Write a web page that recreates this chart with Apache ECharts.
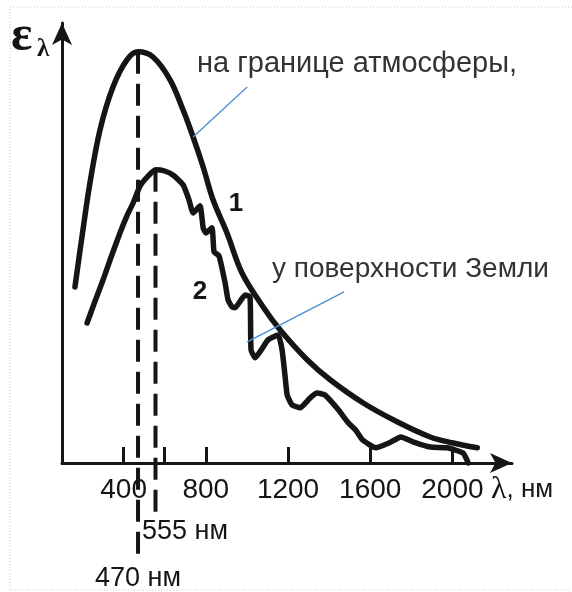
<!DOCTYPE html>
<html>
<head>
<meta charset="utf-8">
<script src="https://cdn.jsdelivr.net/npm/echarts@6/dist/echarts.min.js"></script>
<style>
  html, body { margin: 0; padding: 0; background: #fff; }
  #chart { width: 572px; height: 592px; }
</style>
</head>
<body>
<div id="chart"></div>
<script>
// curve 1 - at the top of the atmosphere (wavelength, nm / spectral density, arb. units)
const lambda1 = [163, 202, 236, 285, 348, 416, 470, 543, 626, 689, 738, 787, 835, 903, 976, 1079, 1161, 1293, 1405, 1566, 1731, 1892, 2004, 2121]
const eps1 = [44, 58.3, 70, 83.3, 94, 100.8, 102.8, 101.5, 95.8, 88.3, 81.5, 74, 65.8, 57.5, 47.5, 39, 33.3, 25.8, 20.8, 15, 10.3, 6.5, 5, 3.8]

// curve 2 - at the Earth's surface (absorption bands)
const lambda2 = [222, 261, 300, 339, 382, 416, 446, 480, 520, 555, 600, 645, 690, 718, 738, 772, 787, 801, 830, 840, 864, 894, 908, 928, 942, 991, 1015, 1020, 1040, 1103, 1152, 1171, 1186, 1196, 1220, 1259, 1308, 1342, 1380, 1445, 1494, 1528, 1562, 1627, 1691, 1750, 1808, 1892, 1975, 2052, 2077]
const eps2 = [35, 40.5, 45.8, 51.5, 57.5, 61.8, 65, 69.3, 71.8, 73.3, 73, 71.8, 69.5, 65.8, 62.5, 64.3, 58.8, 57.5, 58.8, 52.8, 51.8, 45, 40.8, 39, 38.8, 42, 41.5, 28.3, 26.3, 30.8, 32, 28.3, 21.5, 17, 14.5, 13.8, 16.3, 17.5, 17, 13.3, 10, 8.3, 5.8, 3.8, 5, 6.5, 5.3, 4, 3.8, 2.5, 0]

// peak wavelengths and how far their dashed guides run below the axis
const peakLambda = [470, 555]
const peakEps = [102.8, 73.3]
const guideEnd = [-24, -12.5]

// axis ticks
const tickValues = [400, 600, 800, 1200, 1600, 2000]
const labelValues = [400, 800, 1200, 1600, 2000]

// leader lines of the annotations (data coords)
const leaderTop = [[738, 81.5], [1001, 94]]
const leaderBottom = [[1001, 30.3], [1473, 42.8]]

const chart = echarts.init(document.getElementById('chart'))

const zip = (xs, ys) => xs.map((x, i) => [x, ys[i]])
const ink = '#151515'
const sans = '"Liberation Sans", Arial, sans-serif'
const serif = '"Liberation Serif", "DejaVu Serif", serif'

const curveStyle = { color: ink, width: 5.5, cap: 'round', join: 'round' }

const guides = peakLambda.map((l, i) => ({
  type: 'line',
  data: [[l, peakEps[i]], [l, guideEnd[i]]],
  symbol: 'none',
  clip: false,
  lineStyle: { color: ink, width: 4, type: [22, 10] },
  z: 1
}))

const leaders = [leaderTop, leaderBottom].map(d => ({
  type: 'line',
  data: d,
  symbol: 'none',
  clip: false,
  lineStyle: { color: '#4a8fd6', width: 1.3 },
  z: 5
}))

const option = {
  animation: false,
  backgroundColor: '#fff',
  grid: { left: 62, right: 60, top: 23, bottom: 129 },
  xAxis: {
    type: 'value',
    min: 100,
    max: 2290,
    splitLine: { show: false },
    axisLine: {
      lineStyle: { color: ink, width: 3 },
      symbol: ['none', 'arrow'],
      symbolSize: [15, 22]
    },
    axisTick: {
      customValues: tickValues,
      inside: true,
      length: 16,
      lineStyle: { color: ink, width: 3 }
    },
    axisLabel: {
      customValues: labelValues,
      formatter: v => String(v),
      margin: 13,
      color: ink,
      fontSize: 28,
      fontFamily: sans
    }
  },
  yAxis: {
    type: 'value',
    min: 0,
    max: 110,
    splitLine: { show: false },
    axisTick: { show: false },
    axisLabel: { show: false },
    axisLine: {
      lineStyle: { color: ink, width: 3 },
      symbol: ['none', 'arrow'],
      symbolSize: [15, 22]
    }
  },
  series: [
    {
      type: 'line',
      data: zip(lambda1, eps1),
      symbol: 'none',
      smooth: 0.35,
      clip: false,
      lineStyle: curveStyle,
      z: 3
    },
    {
      type: 'line',
      data: zip(lambda2, eps2),
      symbol: 'none',
      smooth: 0.15,
      clip: false,
      lineStyle: curveStyle,
      z: 3
    },
    ...guides,
    ...leaders
  ],
  graphic: [
    // dotted frame of the original picture
    { type: 'polyline', shape: { points: [[572, 7], [10, 7], [10, 590], [572, 590]] },
      style: { stroke: '#c9c9c9', lineWidth: 1, lineDash: [1, 2], fill: null }, silent: true },
    { type: 'text', style: { x: 11, y: 37, text: 'ε', font: 'bold 50px ' + serif, fill: ink, verticalAlign: 'middle' } },
    { type: 'text', style: { x: 37, y: 50, text: 'λ', font: 'bold 25px ' + serif, fill: ink, verticalAlign: 'middle' } },
    { type: 'text', style: { x: 197, y: 64, text: 'на границе атмосферы,', font: '29px ' + sans, fill: '#333', verticalAlign: 'middle' } },
    { type: 'text', style: { x: 272, y: 269, text: 'у поверхности Земли', font: '28px ' + sans, fill: '#333', verticalAlign: 'middle' } },
    { type: 'text', style: { x: 236, y: 204, text: '1', font: 'bold 26px ' + sans, fill: ink, align: 'center', verticalAlign: 'middle' } },
    { type: 'text', style: { x: 200, y: 292, text: '2', font: 'bold 26px ' + sans, fill: ink, align: 'center', verticalAlign: 'middle' } },
    { type: 'text', style: { x: 491, y: 490, text: '{l|λ}{n|, нм}', fill: ink, verticalAlign: 'middle',
      rich: { l: { font: '32px ' + serif, fill: ink }, n: { font: '26px ' + sans, fill: ink } } } },
    { type: 'text', style: { x: 142, y: 532, text: '555 нм', font: '27px ' + sans, fill: ink, verticalAlign: 'middle' } },
    { type: 'text', style: { x: 95, y: 579, text: '470 нм', font: '27px ' + sans, fill: ink, verticalAlign: 'middle' } }
  ]
}

chart.setOption(option)
window.addEventListener('resize', () => chart.resize())
</script>
</body>
</html>
